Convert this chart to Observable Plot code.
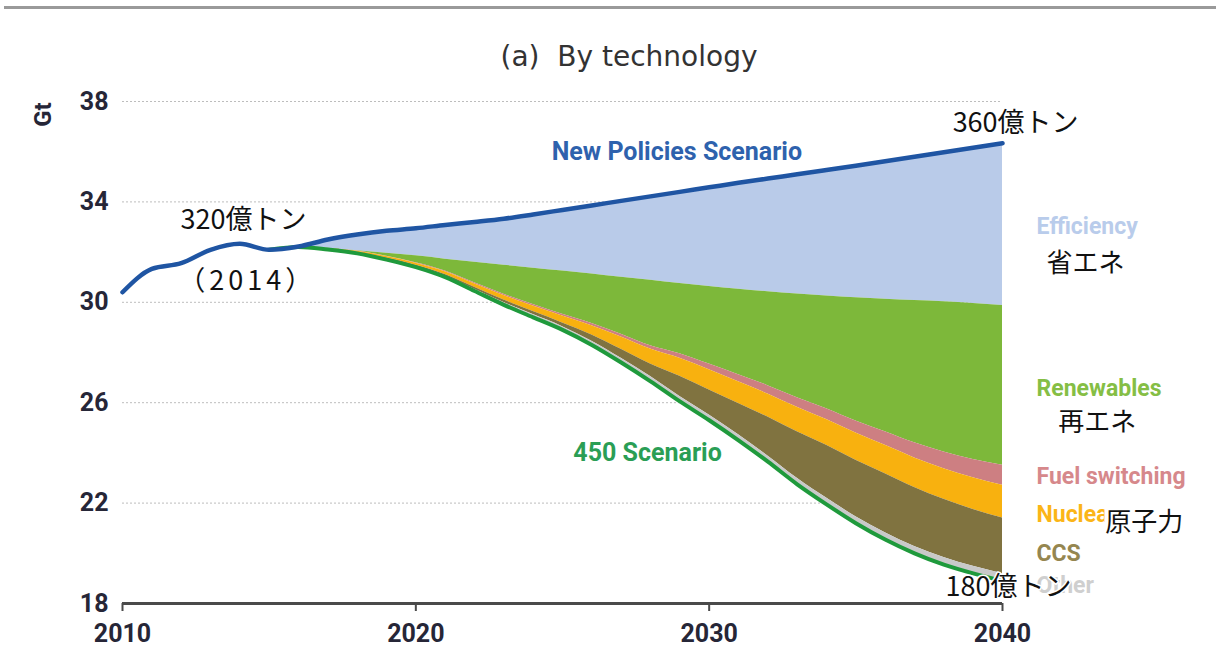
<!DOCTYPE html>
<html><head><meta charset="utf-8">
<script src="https://cdn.jsdelivr.net/npm/d3@7"></script>
<script src="https://cdn.jsdelivr.net/npm/@observablehq/plot@0.6"></script>
<style>
body{margin:0;background:#fff;width:1216px;height:659px;overflow:hidden;}
#header{position:relative;height:80px;}
#rule{position:absolute;left:4px;right:0;top:6px;height:3px;background:#9a9a9a;}
#title{position:absolute;left:0;width:1258px;top:40px;text-align:center;font-family:"DejaVu Sans",sans-serif;font-size:28px;color:#333;white-space:pre;}
</style></head><body>
<div id="header"><div id="rule"></div><div id="title">(a)  By technology</div></div>
<div id="chart"></div>
<script>
// ---- data (Gt CO2) ----
const histYears = [2010, 2011, 2012, 2013, 2014, 2015];
const histEmissions = [30.40, 31.33, 31.56, 32.09, 32.33, 32.09];
const projYears = [2016, 2017, 2018, 2019, 2020, 2021, 2022, 2023, 2024, 2025, 2026, 2027, 2028, 2029, 2030, 2031, 2032, 2033, 2034, 2035, 2036, 2037, 2038, 2039, 2040];
const newPolicies = [32.22, 32.5, 32.7, 32.85, 32.95, 33.08, 33.2, 33.33, 33.5, 33.68, 33.86, 34.04, 34.22, 34.4, 34.58, 34.76, 34.93, 35.1, 35.27, 35.44, 35.62, 35.8, 35.98, 36.16, 36.34];
const efficiencyFloor = [32.2, 32.15, 32.05, 31.95, 31.85, 31.72, 31.6, 31.48, 31.36, 31.25, 31.13, 31.0, 30.88, 30.75, 30.63, 30.52, 30.42, 30.33, 30.25, 30.18, 30.12, 30.07, 30.02, 29.95, 29.87];
const renewablesFloor = [32.2, 32.14, 32.04, 31.83, 31.58, 31.25, 30.78, 30.32, 29.91, 29.52, 29.16, 28.73, 28.27, 27.95, 27.54, 27.11, 26.68, 26.2, 25.76, 25.27, 24.84, 24.4, 24.04, 23.74, 23.51];
const fuelSwitchingFloor = [32.2, 32.14, 32.03, 31.82, 31.56, 31.22, 30.74, 30.27, 29.85, 29.45, 29.07, 28.62, 28.14, 27.77, 27.31, 26.83, 26.35, 25.82, 25.33, 24.79, 24.3, 23.8, 23.37, 23.01, 22.71];
const nuclearFloor = [32.2, 32.12, 31.99, 31.76, 31.48, 31.11, 30.6, 30.09, 29.63, 29.18, 28.7, 28.13, 27.54, 27.05, 26.51, 25.97, 25.43, 24.84, 24.3, 23.71, 23.17, 22.62, 22.15, 21.75, 21.41];
const ccsFloor = [32.2, 32.11, 31.97, 31.73, 31.44, 31.05, 30.52, 29.99, 29.51, 29.03, 28.45, 27.77, 27.04, 26.25, 25.51, 24.72, 23.88, 22.99, 22.2, 21.46, 20.82, 20.27, 19.83, 19.48, 19.19];
const scenario450 = [32.2, 32.1, 31.95, 31.7, 31.4, 31.0, 30.45, 29.9, 29.4, 28.9, 28.3, 27.6, 26.85, 26.05, 25.3, 24.5, 23.65, 22.75, 21.95, 21.2, 20.55, 20.0, 19.55, 19.2, 18.9];
const xTicks = [2010, 2020, 2030, 2040];
const yTicks = [18, 22, 26, 30, 34, 38];
const techLabels = ["Efficiency", "Renewables", "Fuel switching", "Nuclear", "CCS", "Other"];
const techLabelsJa = ["省エネ", "再エネ", "原子力"];
const lineLabels = ["New Policies Scenario", "450 Scenario"];
const notes = ["360億トン", "320億トン", "（2014）", "180億トン"];

// ---- tables ----
const proj = projYears.map((year, i) => ({
  year, nps: newPolicies[i], eff: efficiencyFloor[i], ren: renewablesFloor[i],
  fs: fuelSwitchingFloor[i], nuc: nuclearFloor[i], ccs: ccsFloor[i], s450: scenario450[i]
}));
const hist = histYears.map((year, i) => ({year, v: histEmissions[i]}));
const npsLine = hist.concat(proj.map(d => ({year: d.year, v: d.nps})));
const s450Line = hist.slice(-1).concat(proj.map(d => ({year: d.year, v: d.s450})));

const SANS = 'Roboto, "Liberation Sans", sans-serif';
const JA = '"Noto Sans CJK JP", sans-serif';
const curve = "monotone-x";
const band = (lo, hi, fill) => Plot.areaY(proj, {x: "year", y1: lo, y2: hi, fill, curve});

const techColors = ["#b9cceb", "#85be45", "#d6888b", "#fbb517", "#958650", "#cfcfcf"];
const techY = [33.02, 26.55, 23.06, 21.55, 19.99, 18.72];
const ja = {textAnchor: "start", fontSize: 26, fontFamily: JA, fill: "#111"};

const chart = Plot.plot({
  width: 1216, height: 579,
  marginLeft: 122, marginRight: 214, marginTop: 21, marginBottom: 56,
  x: {domain: [2010, 2040]},
  y: {domain: [18, 38]},
  style: {background: "#fff", overflow: "visible"},
  marks: [
    Plot.ruleY(yTicks.slice(1), {stroke: "#bdbdbd", strokeDasharray: "2,2"}),
    band("eff", "nps", "#b9cbe9"),
    band("ren", "eff", "#7db83a"),
    band("fs", "ren", "#cd7f82"),
    band("nuc", "fs", "#f8b10f"),
    band("ccs", "nuc", "#807340"),
    band("s450", "ccs", "#c9c9c9"),
    Plot.line(s450Line, {x: "year", y: "v", stroke: "#1f9a3c", strokeWidth: 4, curve}),
    Plot.line(npsLine, {x: "year", y: "v", stroke: "#1f55a3", strokeWidth: 4.5, curve}),
    Plot.ruleY([18], {stroke: "#4a4a4a", strokeWidth: 3}),
    Plot.axisX({ticks: xTicks, tickFormat: d => String(d), tickSize: 8, tickPadding: 13, stroke: "#4a4a4a", strokeWidth: 2,
      fill: "#262637", fontSize: 25, fontWeight: "bold", fontFamily: SANS, label: null}),
    Plot.axisY({ticks: yTicks, tickSize: 0, tickPadding: 14, fill: "#262637", fontSize: 25, fontWeight: "bold", fontFamily: SANS, label: null}),
    Plot.text(["Gt"], {x: 2010, y: 38, dx: -79, dy: 13, rotate: -90, fontSize: 24, fontWeight: "bold", fontFamily: SANS, fill: "#262637"}),
    // scenario labels
    Plot.text([lineLabels[0]], {x: 2028.9, y: 35.97, fontSize: 25, fontWeight: "bold", fontFamily: SANS, fill: "#2e62ad"}),
    Plot.text([lineLabels[1]], {x: 2027.9, y: 24.0, fontSize: 25, fontWeight: "bold", fontFamily: SANS, fill: "#2a9e55"}),
    // technology labels
    Plot.text(techLabels, {x: 2041.16, y: (d, i) => techY[i], fill: (d, i) => techColors[i], textAnchor: "start",
      fontSize: 23, fontWeight: "bold", fontFamily: SANS}),
    Plot.text([techLabelsJa[0]], {...ja, x: 2041.5, y: 31.55}),
    Plot.text([techLabelsJa[1]], {...ja, x: 2041.9, y: 25.22}),
    Plot.text([techLabelsJa[2]], {...ja, x: 2043.5, y: 21.23, stroke: "white", strokeWidth: 8}),
    // notes
    Plot.text([notes[0]], {...ja, x: 2038.3, y: 37.12, fontSize: 27}),
    Plot.text([notes[1]], {...ja, x: 2011.98, y: 33.26, fontSize: 27}),
    Plot.text([notes[2]], {...ja, x: 2011.9, y: 30.83, fontSize: 27}),
    Plot.text([notes[3]], {...ja, x: 2038.06, y: 18.64, fontSize: 27, stroke: "white", strokeWidth: 3})
  ]
});
document.getElementById("chart").appendChild(chart);
// widen the bracketed year note as in the original typesetting
d3.select(chart).selectAll("text").filter(function() { return this.textContent === notes[2]; })
  .style("letter-spacing", "4px");
</script>
</body></html>
